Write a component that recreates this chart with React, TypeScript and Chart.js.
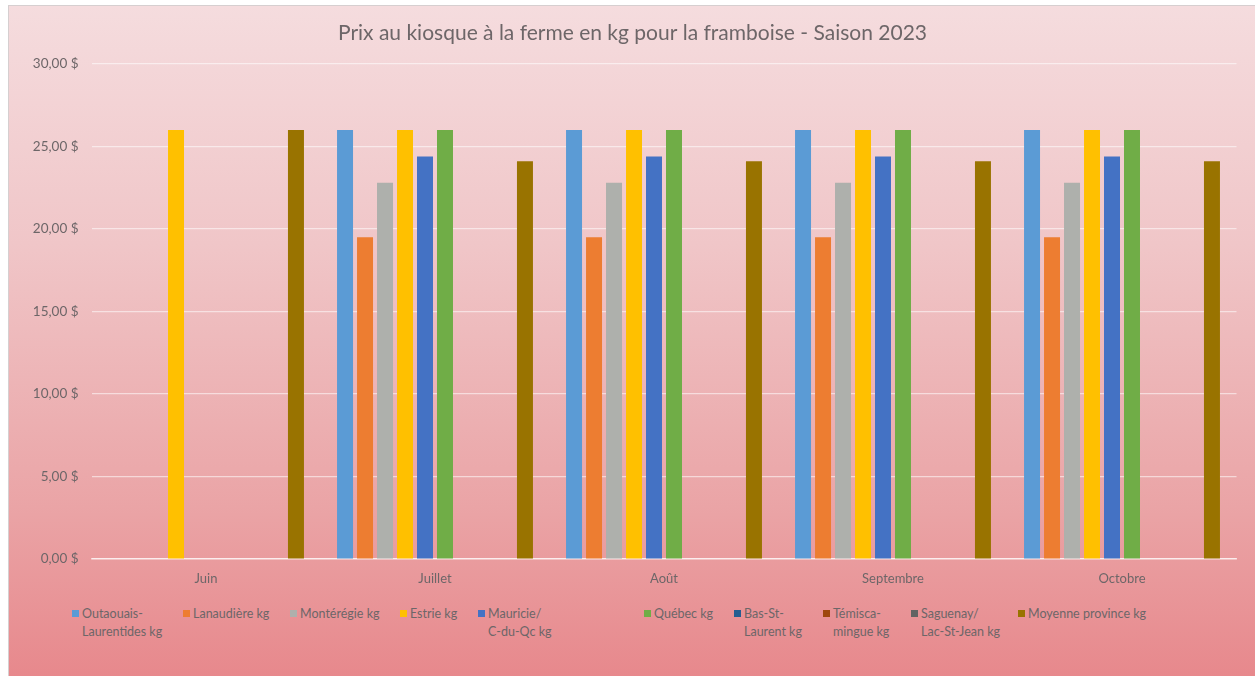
import React, { useEffect, useRef } from "react";
import { Chart, registerables } from "chart.js";

Chart.register(...registerables);

const TITLE = "Prix au kiosque à la ferme en kg pour la framboise - Saison 2023";
const months = ["Juin", "Juillet", "Août", "Septembre", "Octobre"];

const outaouais = [null, 26.0, 26.0, 26.0, 26.0];
const lanaudiere = [null, 19.5, 19.5, 19.5, 19.5];
const monteregie = [null, 22.8, 22.8, 22.8, 22.8];
const estrie = [26.0, 26.0, 26.0, 26.0, 26.0];
const mauricie = [null, 24.4, 24.4, 24.4, 24.4];
const quebec = [null, 26.0, 26.0, 26.0, 26.0];
const basStLaurent = [null, null, null, null, null];
const temiscamingue = [null, null, null, null, null];
const saguenay = [null, null, null, null, null];
const moyenne = [26.0, 24.1, 24.1, 24.1, 24.1];

const seriesNames = [
  ["Outaouais-", "Laurentides kg"],
  ["Lanaudière kg"],
  ["Montérégie kg"],
  ["Estrie kg"],
  ["Mauricie/", "C-du-Qc kg"],
  ["Québec kg"],
  ["Bas-St-", "Laurent kg"],
  ["Témisca-", "mingue kg"],
  ["Saguenay/", "Lac-St-Jean kg"],
  ["Moyenne province kg"],
];
const seriesValues = [
  outaouais, lanaudiere, monteregie, estrie, mauricie,
  quebec, basStLaurent, temiscamingue, saguenay, moyenne,
];
const seriesColors = [
  "#5B9BD5", "#ED7D31", "#AEB0AC", "#FFC000", "#4472C4",
  "#70AD47", "#255E91", "#9E480E", "#636363", "#997300",
];
const legendX = [72, 183, 290, 400, 478, 644, 734, 823, 911, 1018];

const FONT = "Lato, 'Liberation Sans', sans-serif";
const TEXT = "#6d6668";

export default function App() {
  const ref = useRef<HTMLCanvasElement | null>(null);

  useEffect(() => {
    if (!ref.current) return;
    const chart = new Chart(ref.current, {
      type: "bar",
      data: {
        labels: months,
        datasets: seriesValues.map((vals, i) => ({
          label: seriesNames[i].join(" "),
          data: vals,
          backgroundColor: seriesColors[i],
          borderWidth: 0,
          categoryPercentage: 0.873,
          barPercentage: 0.8,
        })),
      },
      options: {
        animation: false,
        responsive: false,
        maintainAspectRatio: false,
        layout: { padding: { left: 28.5, right: 18.5, top: 0, bottom: 11 } },
        plugins: {
          legend: { display: false },
          tooltip: { enabled: false },
          title: {
            display: true,
            text: TITLE,
            color: TEXT,
            font: { family: FONT, size: 21, weight: "normal" },
            padding: { top: 20.4, bottom: 18.4 },
          },
        },
        scales: {
          x: {
            grid: { display: false, drawTicks: false },
            border: { display: true, color: "rgba(255,255,255,0.6)", width: 1.5 },
            ticks: { color: TEXT, font: { family: FONT, size: 13 }, padding: 12 },
            afterFit: (s: any) => { s.height = 30; },
          },
          y: {
            min: 0,
            max: 30,
            ticks: {
              stepSize: 5,
              color: TEXT,
              font: { family: FONT, size: 13.5 },
              padding: 13,
              callback: (v: any) => Number(v).toFixed(2).replace(".", ",") + " $",
            },
            grid: { color: "rgba(255,255,255,0.55)", lineWidth: 1.2, drawTicks: false },
            border: { display: false },
            afterFit: (s: any) => { s.width = 63; },
          },
        },
      },
    } as any);
    return () => chart.destroy();
  }, []);

  return (
    <div style={{ position: "absolute", left: 0, top: 0, width: 1255, height: 676, background: "#fff", overflow: "hidden" }}>
      <div
        style={{
          position: "absolute",
          left: 8,
          top: 5,
          width: 1255,
          height: 680,
          boxSizing: "border-box",
          border: "1px solid #d6cfd0",
          background: "linear-gradient(to bottom, #f5dcde 0%, #f0c6c8 35%, #eaa3a5 75%, #e7878b 100%)",
        }}
      />
      <canvas
        ref={ref}
        width={1255}
        height={600}
        style={{ position: "absolute", left: 0, top: 0, width: 1255, height: 600 }}
      />
      {seriesNames.map((lines, i) => (
        <div
          key={i}
          style={{
            position: "absolute",
            left: legendX[i],
            top: 605,
            fontFamily: FONT,
            fontSize: 12.5,
            lineHeight: "18px",
            color: TEXT,
            whiteSpace: "nowrap",
          }}
        >
          <span
            style={{
              position: "absolute",
              left: 0,
              top: 5,
              width: 7,
              height: 7,
              background: seriesColors[i],
            }}
          />
          <div style={{ marginLeft: 10 }}>
            {lines.map((l, j) => (
              <div key={j}>{l}</div>
            ))}
          </div>
        </div>
      ))}
    </div>
  );
}
